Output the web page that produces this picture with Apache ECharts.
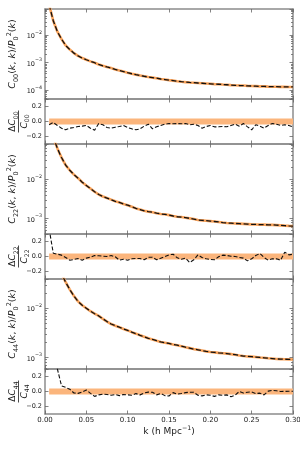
<!DOCTYPE html>
<html><head><meta charset="utf-8">
<script src="https://cdn.jsdelivr.net/npm/echarts@6/dist/echarts.min.js"></script>
<style>html,body{margin:0;padding:0;background:#fff}#c{width:300px;height:450px}</style>
</head><body><div id="c"></div>
<script>
// ---- data ----
const k = [0.005,0.010,0.015,0.020,0.025,0.030,0.035,0.040,0.045,0.050,
  0.055,0.060,0.065,0.070,0.075,0.080,0.085,0.090,0.095,0.100,
  0.105,0.110,0.115,0.120,0.125,0.130,0.135,0.140,0.145,0.150,
  0.155,0.160,0.165,0.170,0.175,0.180,0.185,0.190,0.195,0.200,
  0.205,0.210,0.215,0.220,0.225,0.230,0.235,0.240,0.245,0.250,
  0.255,0.260,0.265,0.270,0.275,0.280,0.285,0.290,0.295,0.300];
const c00 = [0.126,0.033,0.0132,0.0071,0.00417,0.00295,0.00219,0.00174,0.00145,0.00126,
  0.0011,0.00098,0.00085,0.00076,0.00069,0.00063,0.00056,0.00051,0.00047,0.000427,
  0.00039,0.000363,0.000339,0.000316,0.000295,0.000282,0.000269,0.000251,0.00024,0.000229,
  0.000219,0.000209,0.0002,0.000193,0.000188,0.000184,0.00018,0.000176,0.000172,0.000168,
  0.000164,0.000162,0.000158,0.000155,0.000151,0.000148,0.000146,0.000145,0.000141,0.00014,
  0.000138,0.000136,0.000135,0.000133,0.000132,0.000132,0.00013,0.00013,0.000129,0.000129];
const c22 = [0.28,0.112,0.059,0.0347,0.0224,0.0166,0.0129,0.0105,0.0083,0.0069,
  0.00575,0.00479,0.00407,0.00363,0.00331,0.00302,0.00275,0.00257,0.00234,0.00219,
  0.002,0.00182,0.0017,0.00158,0.00151,0.00145,0.00138,0.00132,0.00129,0.00123,
  0.00117,0.00112,0.0011,0.00106,0.00102,0.00098,0.00093,0.00091,0.00089,0.00087,
  0.00085,0.00083,0.0008,0.00078,0.00077,0.00076,0.00075,0.00074,0.00073,0.00072,
  0.000716,0.000708,0.000708,0.0007,0.0007,0.00069,0.00068,0.000668,0.00066,0.000653];
const c44 = [0.316,0.141,0.0794,0.0501,0.0339,0.024,0.0178,0.0138,0.0115,0.0100,
  0.00871,0.00776,0.0070,0.0061,0.00537,0.00479,0.00442,0.00412,0.0038,0.00355,
  0.00327,0.00305,0.00282,0.00263,0.00245,0.00232,0.00219,0.00207,0.002,0.00193,
  0.00184,0.00178,0.0017,0.00162,0.00155,0.00148,0.00143,0.00138,0.00133,0.00129,
  0.00127,0.00124,0.00122,0.0012,0.00117,0.00114,0.0011,0.00107,0.00105,0.00104,
  0.00102,0.001,0.000984,0.000966,0.000951,0.000933,0.000927,0.00092,0.000916,0.000912];
const r00 = [-0.044,-0.013,-0.053,-0.089,-0.111,-0.089,-0.08,-0.067,-0.062,-0.053,
  -0.089,-0.116,-0.027,-0.044,-0.08,-0.089,-0.076,-0.067,-0.053,-0.08,
  -0.098,-0.111,-0.098,-0.062,-0.036,-0.098,-0.071,-0.053,-0.036,-0.027,
  -0.031,-0.027,-0.031,-0.027,-0.044,-0.036,-0.053,-0.089,-0.067,-0.053,
  -0.071,-0.071,-0.067,-0.071,-0.053,-0.036,-0.062,-0.027,-0.071,-0.111,
  -0.044,-0.062,-0.089,-0.053,-0.027,-0.036,-0.053,-0.044,-0.053,-0.071];
const r22 = [0.37,0.044,0.031,0.018,-0.013,-0.049,-0.04,-0.027,-0.049,-0.022,
  -0.009,0.013,0.009,0.004,0,0.013,-0.004,-0.049,-0.036,-0.049,
  -0.031,-0.027,-0.027,-0.044,-0.009,-0.009,-0.044,-0.022,0,0.022,
  0.031,-0.018,-0.036,-0.022,-0.08,-0.044,0.022,-0.013,-0.031,-0.04,
  -0.044,-0.004,0.018,0.013,0.004,0,-0.013,-0.022,-0.058,-0.031,
  0.013,0.04,-0.013,-0.049,-0.031,-0.031,-0.049,0.058,0.022,0.031];
const r44 = [1.5,0.8,0.3,0.075,0.055,0.03,-0.02,-0.025,-0.005,0.02,
  -0.025,-0.065,-0.045,-0.035,-0.04,-0.05,-0.04,-0.055,-0.04,-0.045,
  -0.05,-0.028,-0.045,-0.02,-0.008,-0.01,-0.045,-0.027,-0.055,-0.06,
  -0.015,-0.035,-0.027,-0.015,-0.01,-0.01,-0.05,-0.058,-0.045,-0.05,
  -0.065,-0.045,-0.05,-0.045,-0.07,-0.05,0.0,-0.02,-0.01,-0.005,
  -0.027,-0.022,-0.045,0.005,0.015,0.01,0.0,0.002,0.003,0.003];
const bandK = [0.005, 0.300];
const bandLow = -0.04, bandHigh = 0.04;
const residTicks = [-0.2, 0, 0.2];
const xTickLabels = ['0.00','0.05','0.10','0.15','0.20','0.25','0.30'];
const subs = ['00','22','44'];

// ---- styling / layout ----
const FONT = 'DejaVu Sans';
const TXT = '#1a1a1a';
const SPINE = '#8c8c8c';
const ORANGE = '#f8a25a';
const BAND = '#fbb57c';
const L = 45, W = 248;
const panels = [
  {top: 9,   h: 90, kind: 'log', min: 4.71e-5, max: 0.0881, data: c00, n: 0},
  {top: 99,  h: 45, kind: 'res', data: r00, n: 0},
  {top: 144, h: 90, kind: 'log', min: 4.12e-4, max: 0.0762, data: c22, n: 1},
  {top: 234, h: 45, kind: 'res', data: r22, n: 1},
  {top: 279, h: 90, kind: 'log', min: 5.83e-4, max: 0.0394, data: c44, n: 2},
  {top: 369, h: 45, kind: 'res', data: r44, n: 2}
];

const axisLine = {show: true, onZero: false, lineStyle: {color: SPINE, width: 1.5}};
const tickStyle = {color: '#666', width: 0.8};
const supRich = {
  b: {fontSize: 6.5, fontFamily: FONT, color: TXT, lineHeight: 10, verticalAlign: 'bottom'},
  sup: {fontSize: 4.8, fontFamily: FONT, color: TXT, lineHeight: 5, verticalAlign: 'top'}
};
function logFmt(v) {
  const e = Math.log10(v), r = Math.round(e);
  if (Math.abs(e - r) > 1e-6) return '';
  return '{b|10}{sup|' + (r < 0 ? '\u2212' + (-r) : r) + '}';
}

const grid = [], xAxis = [], yAxis = [], series = [], graphic = [];
panels.forEach((p, i) => {
  grid.push({left: L, width: W, top: p.top, height: p.h, outerBoundsMode: 'none', containLabel: false});
  const last = i === panels.length - 1;
  ['bottom', 'top'].forEach(pos => {
    xAxis.push({
      gridIndex: i, type: 'value', position: pos, min: 0, max: 0.3, interval: 0.05,
      axisLine, axisTick: {show: true, inside: true, length: 3.5, lineStyle: tickStyle},
      axisLabel: {show: last && pos === 'bottom', fontSize: 7, color: TXT, fontFamily: FONT, margin: 3,
        formatter: v => xTickLabels[Math.round(v / 0.05)] || ''},
      splitLine: {show: false}
    });
  });
  ['left', 'right'].forEach(pos => {
    const base = {
      gridIndex: i, position: pos, axisLine,
      splitLine: {show: false}, minorSplitLine: {show: false}
    };
    if (p.kind === 'log') {
      Object.assign(base, {
        type: 'log', logBase: 10, min: p.min, max: p.max,
        axisTick: {show: true, inside: true, length: 3.5, lineStyle: tickStyle},
        minorTick: {show: true, splitNumber: 9, length: 2, lineStyle: tickStyle},
        axisLabel: {show: pos === 'left', formatter: logFmt, rich: supRich, margin: 3,
          showMinLabel: false, showMaxLabel: false}
      });
    } else {
      Object.assign(base, {
        type: 'value', min: -0.3, max: 0.3,
        axisTick: {show: true, inside: true, length: 3.5, lineStyle: tickStyle, customValues: residTicks},
        axisLabel: {show: pos === 'left', customValues: residTicks, fontSize: 6.5, color: TXT,
          fontFamily: FONT, margin: 3,
          formatter: v => v.toFixed(1).replace('-', '\u2212')}
      });
    }
    yAxis.push(base);
  });
  const ax = {xAxisIndex: 2 * i, yAxisIndex: 2 * i};
  const pts = k.map((x, j) => [x, p.data[j]]);
  if (p.kind === 'log') {
    series.push(Object.assign({type: 'line', data: pts, symbol: 'none', z: 2, clip: true,
      lineStyle: {color: ORANGE, width: 2.6}}, ax));
    series.push(Object.assign({type: 'line', data: pts, symbol: 'none', z: 3, clip: true,
      lineStyle: {color: '#111', width: 1.3, type: [5, 2.5]}}, ax));
  } else {
    series.push(Object.assign({type: 'line', data: [], symbol: 'none', z: 1,
      markArea: {silent: true, itemStyle: {color: BAND, opacity: 1},
        data: [[{coord: [bandK[0], bandLow]}, {coord: [bandK[1], bandHigh]}]]}}, ax));
    series.push(Object.assign({type: 'line', data: pts, symbol: 'none', z: 3, clip: true,
      lineStyle: {color: '#111', width: 1.1, type: [4, 2]}}, ax));
  }
  // axis titles
  const cy = p.top + p.h / 2;
  const s = subs[p.n];
  if (p.kind === 'log') {
    graphic.push({
      type: 'text', x: 13, y: cy, rotation: Math.PI / 2, silent: true,
      style: {
        text: '{i|C}{s|' + s + '}{n|(}{i|k}{n|, }{i|k}{n|)/}{i|P}{s|0}{p|2}{n|(}{i|k}{n|)}',
        align: 'center', verticalAlign: 'middle',
        rich: {
          i: {fontFamily: FONT, fontStyle: 'italic', fontSize: 9.5, fill: TXT, lineHeight: 14, verticalAlign: 'middle'},
          n: {fontFamily: FONT, fontSize: 9.5, fill: TXT, lineHeight: 14, verticalAlign: 'middle'},
          s: {fontFamily: FONT, fontSize: 6.5, fill: TXT, lineHeight: 7, verticalAlign: 'bottom'},
          p: {fontFamily: FONT, fontSize: 6.5, fill: TXT, lineHeight: 7, verticalAlign: 'top'}
        }
      }
    });
  } else {
    const rich = {
      i: {fontFamily: FONT, fontStyle: 'italic', fontSize: 9, fill: TXT, lineHeight: 12, verticalAlign: 'middle'},
      n: {fontFamily: FONT, fontSize: 9, fill: TXT, lineHeight: 12, verticalAlign: 'middle'},
      s: {fontFamily: FONT, fontSize: 6.2, fill: TXT, lineHeight: 7, verticalAlign: 'bottom'}
    };
    graphic.push({
      type: 'group', x: 18.5, y: cy, rotation: Math.PI / 2, silent: true,
      children: [
        {type: 'text', x: 0, y: -5.5, style: {text: '{n|\u0394}{i|C}{s|' + s + '}', align: 'center', verticalAlign: 'middle', rich}},
        {type: 'line', shape: {x1: -11, y1: 0, x2: 11, y2: 0}, style: {stroke: TXT, lineWidth: 0.8}},
        {type: 'text', x: 0, y: 6, style: {text: '{i|C}{s|' + s + '}', align: 'center', verticalAlign: 'middle', rich}}
      ]
    });
  }
});
graphic.push({
  type: 'text', x: 169, y: 432, silent: true,
  style: {
    text: '{n|k (h Mpc}{p|\u22121}{n|)}', align: 'center', verticalAlign: 'middle',
    rich: {
      n: {fontFamily: FONT, fontSize: 9, fill: TXT, lineHeight: 13, verticalAlign: 'middle'},
      p: {fontFamily: FONT, fontSize: 6.3, fill: TXT, lineHeight: 7, verticalAlign: 'top'}
    }
  }
});

const chart = echarts.init(document.getElementById('c'), null, {renderer: 'canvas'});
chart.setOption({
  animation: false,
  backgroundColor: '#fff',
  textStyle: {fontFamily: FONT},
  grid, xAxis, yAxis, series, graphic
});
</script></body></html>
